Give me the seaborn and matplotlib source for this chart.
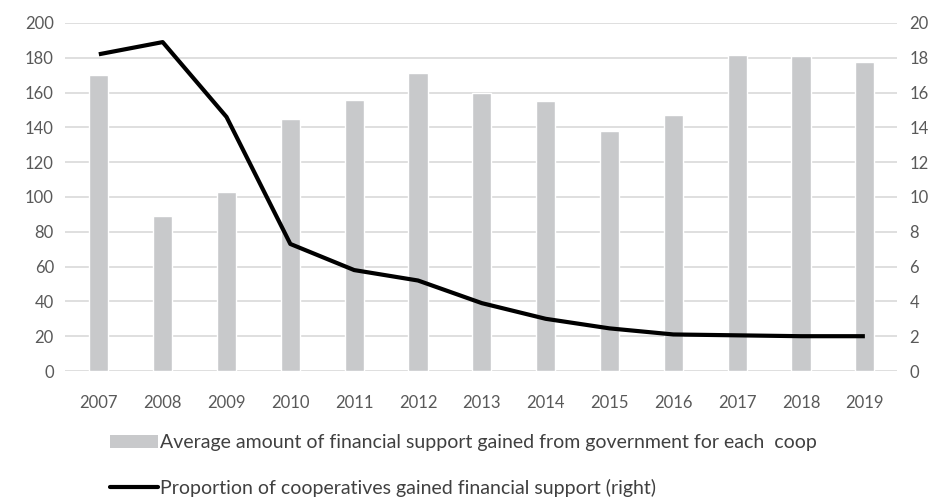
import numpy as np
import pandas as pd
import seaborn as sns
import matplotlib
matplotlib.use('Agg')
import matplotlib.pyplot as plt
from matplotlib.patches import Patch
from matplotlib.lines import Line2D

# Datos
years = ['2007', '2008', '2009', '2010', '2011', '2012', '2013',
         '2014', '2015', '2016', '2017', '2018', '2019']
avg_support = [170, 89, 103, 145, 155.5, 171.5, 160, 155, 138, 147, 181.5, 181, 177.5]
prop_coops = [18.2, 18.9, 14.6, 7.3, 5.8, 5.2, 3.9, 3.0, 2.45, 2.1, 2.05, 2.0, 2.0]

bar_label = "Average amount of financial support gained from government for each  coop"
line_label = "Proportion of cooperatives gained financial support (right)"

df = pd.DataFrame({'year': years, 'avg': avg_support, 'prop': prop_coops})

sns.set_style("white")
plt.rcParams['font.family'] = ['Lato', 'DejaVu Sans']
text_col = '#595959'

fig = plt.figure(figsize=(9.42, 4.99), dpi=100)
ax = fig.add_axes([0.069, 0.2565, 0.883, 0.6975])

sns.barplot(data=df, x='year', y='avg', color='#c8c9cb', saturation=1,
            width=0.3, ax=ax, zorder=2)
ax.set_ylim(0, 200)
ax.set_yticks(range(0, 201, 20))
ax.set_xlim(-0.53, 12.5)
ax.yaxis.grid(True, color='#d9d9d9', lw=1.2, zorder=0)
ax.set_axisbelow(True)
ax.set_xlabel('')
ax.set_ylabel('')
for s in ax.spines.values():
    s.set_visible(False)
ax.tick_params(axis='both', length=0, labelsize=12, colors=text_col, pad=8)
ax.tick_params(axis='x', pad=17)

ax2 = ax.twinx()
sns.lineplot(data=df, x='year', y='prop', color='black', lw=3, ax=ax2,
             solid_capstyle='butt', zorder=3)
ax2.set_ylim(0, 20)
ax2.set_yticks(range(0, 21, 2))
ax2.set_ylabel('')
for s in ax2.spines.values():
    s.set_visible(False)
ax2.tick_params(axis='y', length=0, labelsize=12, colors=text_col, pad=9)

handles = [Patch(facecolor='#c8c9cb', edgecolor='none'),
           Line2D([0], [0], color='black', lw=3)]
fig.legend(handles, [bar_label, line_label], loc='upper left',
           bbox_to_anchor=(0.108, 0.145), frameon=False, fontsize=14,
           labelcolor='#404040', handlelength=2.5, handletextpad=0.1,
           labelspacing=1.4, borderaxespad=0)

plt.savefig("out.png", dpi=100)
